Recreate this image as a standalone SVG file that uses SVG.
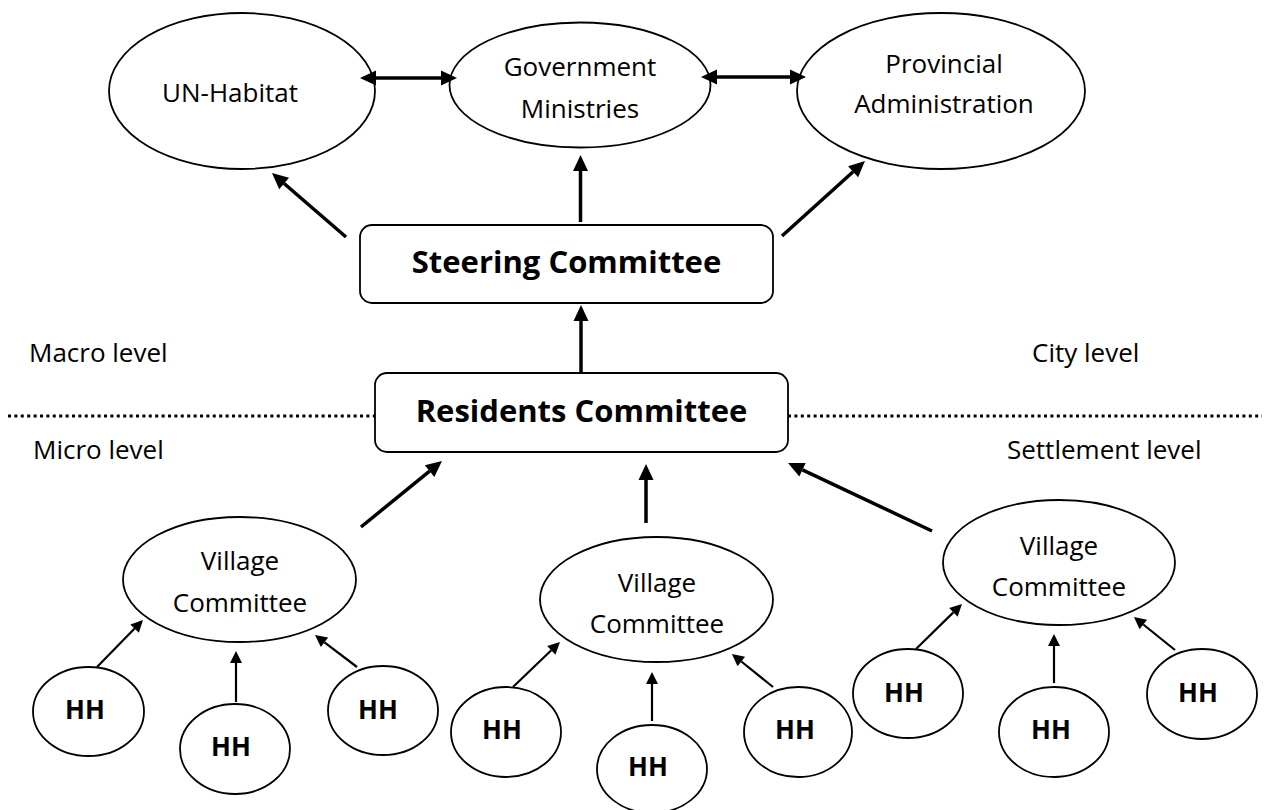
<svg xmlns="http://www.w3.org/2000/svg" width="1266" height="810" viewBox="0 0 1266 810">
<style>
.n{fill:#fff;stroke:#000;stroke-width:1.8}
.t{font-family:"Open Sans","Liberation Sans",sans-serif;font-size:26px;fill:#000;text-anchor:middle}
.lv{font-family:"Open Sans","Liberation Sans",sans-serif;font-size:26px;fill:#000}
.b{font-family:"Open Sans","Liberation Sans",sans-serif;font-size:31px;font-weight:bold;fill:#000;text-anchor:middle}
.h{font-family:"Open Sans","Liberation Sans",sans-serif;font-size:26px;font-weight:bold;fill:#000;text-anchor:middle}
.big{fill:none;stroke:#000;stroke-width:3.5;marker-end:url(#ah)}
.sm{fill:none;stroke:#000;stroke-width:2.2;marker-end:url(#ahs)}
.dbl{fill:none;stroke:#000;stroke-width:3.5;marker-start:url(#ah2);marker-end:url(#ah2)}
.dot{fill:none;stroke:#000;stroke-width:3;stroke-dasharray:3 3.4}
</style>
<defs>
<marker id="ah" markerUnits="userSpaceOnUse" viewBox="0 -8 16 16" markerWidth="16" markerHeight="16" refX="0" refY="0" orient="auto" overflow="visible"><path d="M0,-7.5 L16,0 L0,7.5 z" fill="#000"/></marker>
<marker id="ah2" markerUnits="userSpaceOnUse" viewBox="0 -8 16 16" markerWidth="16" markerHeight="16" refX="0" refY="0" orient="auto-start-reverse" overflow="visible"><path d="M0,-7.5 L16,0 L0,7.5 z" fill="#000"/></marker>
<marker id="ahs" markerUnits="userSpaceOnUse" viewBox="0 -6 12 12" markerWidth="12" markerHeight="12" refX="0" refY="0" orient="auto" overflow="visible"><path d="M0,-6 L12,0 L0,6 z" fill="#000"/></marker>
</defs>
<rect width="1266" height="810" fill="#fff"/>

<g id="levels">
<path class="dot" d="M8,416 H375"/>
<path class="dot" d="M788,416 H1262"/>
<text class="lv" x="29" y="362">Macro level</text>
<text class="lv" x="1032" y="362">City level</text>
<text class="lv" x="33" y="459">Micro level</text>
<text class="lv" x="1007" y="459">Settlement level</text>
</g>

<g id="un-habitat"><ellipse class="n" cx="242" cy="91" rx="133" ry="78"/><text class="t" x="230" y="102">UN-Habitat</text></g>
<g id="government-ministries"><ellipse class="n" cx="580" cy="85" rx="130.5" ry="62.5"/><text class="t" x="580" y="76">Government</text><text class="t" x="580" y="118">Ministries</text></g>
<g id="provincial-administration"><ellipse class="n" cx="941" cy="91" rx="144" ry="78"/><text class="t" x="944" y="73">Provincial</text><text class="t" x="944" y="113">Administration</text></g>

<g id="steering-committee"><rect class="n" x="360" y="225" width="413" height="78" rx="12"/><text class="b" x="566.5" y="273">Steering Committee</text></g>
<g id="residents-committee"><rect class="n" x="375" y="373" width="413" height="79" rx="12"/><text class="b" x="581.5" y="422">Residents Committee</text></g>

<g id="village-committee-1"><ellipse class="n" cx="239.5" cy="579.5" rx="116.5" ry="62.5"/><text class="t" x="240" y="570">Village</text><text class="t" x="240" y="612">Committee</text></g>
<g id="village-committee-2"><ellipse class="n" cx="656.5" cy="599.5" rx="116.5" ry="62.5"/><text class="t" x="657" y="592">Village</text><text class="t" x="657" y="633">Committee</text></g>
<g id="village-committee-3"><ellipse class="n" cx="1059" cy="562.5" rx="116" ry="62.5"/><text class="t" x="1059" y="555">Village</text><text class="t" x="1059" y="596">Committee</text></g>

<g id="hh-1"><ellipse class="n" cx="88.5" cy="711.5" rx="55.5" ry="44.5"/><text class="h" x="85" y="719">HH</text></g>
<g id="hh-2"><ellipse class="n" cx="235" cy="749" rx="55" ry="45"/><text class="h" x="231" y="756">HH</text></g>
<g id="hh-3"><ellipse class="n" cx="383" cy="710.5" rx="55" ry="44.5"/><text class="h" x="378" y="719">HH</text></g>
<g id="hh-4"><ellipse class="n" cx="506" cy="732" rx="55" ry="45"/><text class="h" x="502" y="739">HH</text></g>
<g id="hh-5"><ellipse class="n" cx="652" cy="769" rx="55" ry="44"/><text class="h" x="648" y="776">HH</text></g>
<g id="hh-6"><ellipse class="n" cx="798" cy="732" rx="54" ry="45"/><text class="h" x="795" y="739">HH</text></g>
<g id="hh-7"><ellipse class="n" cx="908" cy="693.5" rx="55" ry="44.5"/><text class="h" x="904" y="702">HH</text></g>
<g id="hh-8"><ellipse class="n" cx="1054" cy="732" rx="55" ry="45"/><text class="h" x="1051" y="739">HH</text></g>
<g id="hh-9"><ellipse class="n" cx="1202" cy="694" rx="55" ry="45"/><text class="h" x="1198" y="702">HH</text></g>

<g id="connectors">
<path class="dbl" d="M376,78 H441"/>
<path class="dbl" d="M717,77 H790"/>
<path class="big" d="M580.5,222 V171"/>
<path class="big" d="M346,237 L284.1,183.5"/>
<path class="big" d="M782,236 L853.1,171.7"/>
<path class="big" d="M581,373 V321"/>
<path class="big" d="M361,527 L429.6,471.1"/>
<path class="big" d="M646,523 V480"/>
<path class="big" d="M932,531 L802.5,469.8"/>
<path class="sm" d="M97,667 L134.6,628.6"/>
<path class="sm" d="M236,702 V663"/>
<path class="sm" d="M357,667 L324.5,642.3"/>
<path class="sm" d="M513,687 L551.3,650.3"/>
<path class="sm" d="M652,721 V684"/>
<path class="sm" d="M773,687 L741.3,661.5"/>
<path class="sm" d="M916,649 L953.4,612.4"/>
<path class="sm" d="M1054,683 V646"/>
<path class="sm" d="M1175,650 L1143.3,624.5"/>
</g>
</svg>
